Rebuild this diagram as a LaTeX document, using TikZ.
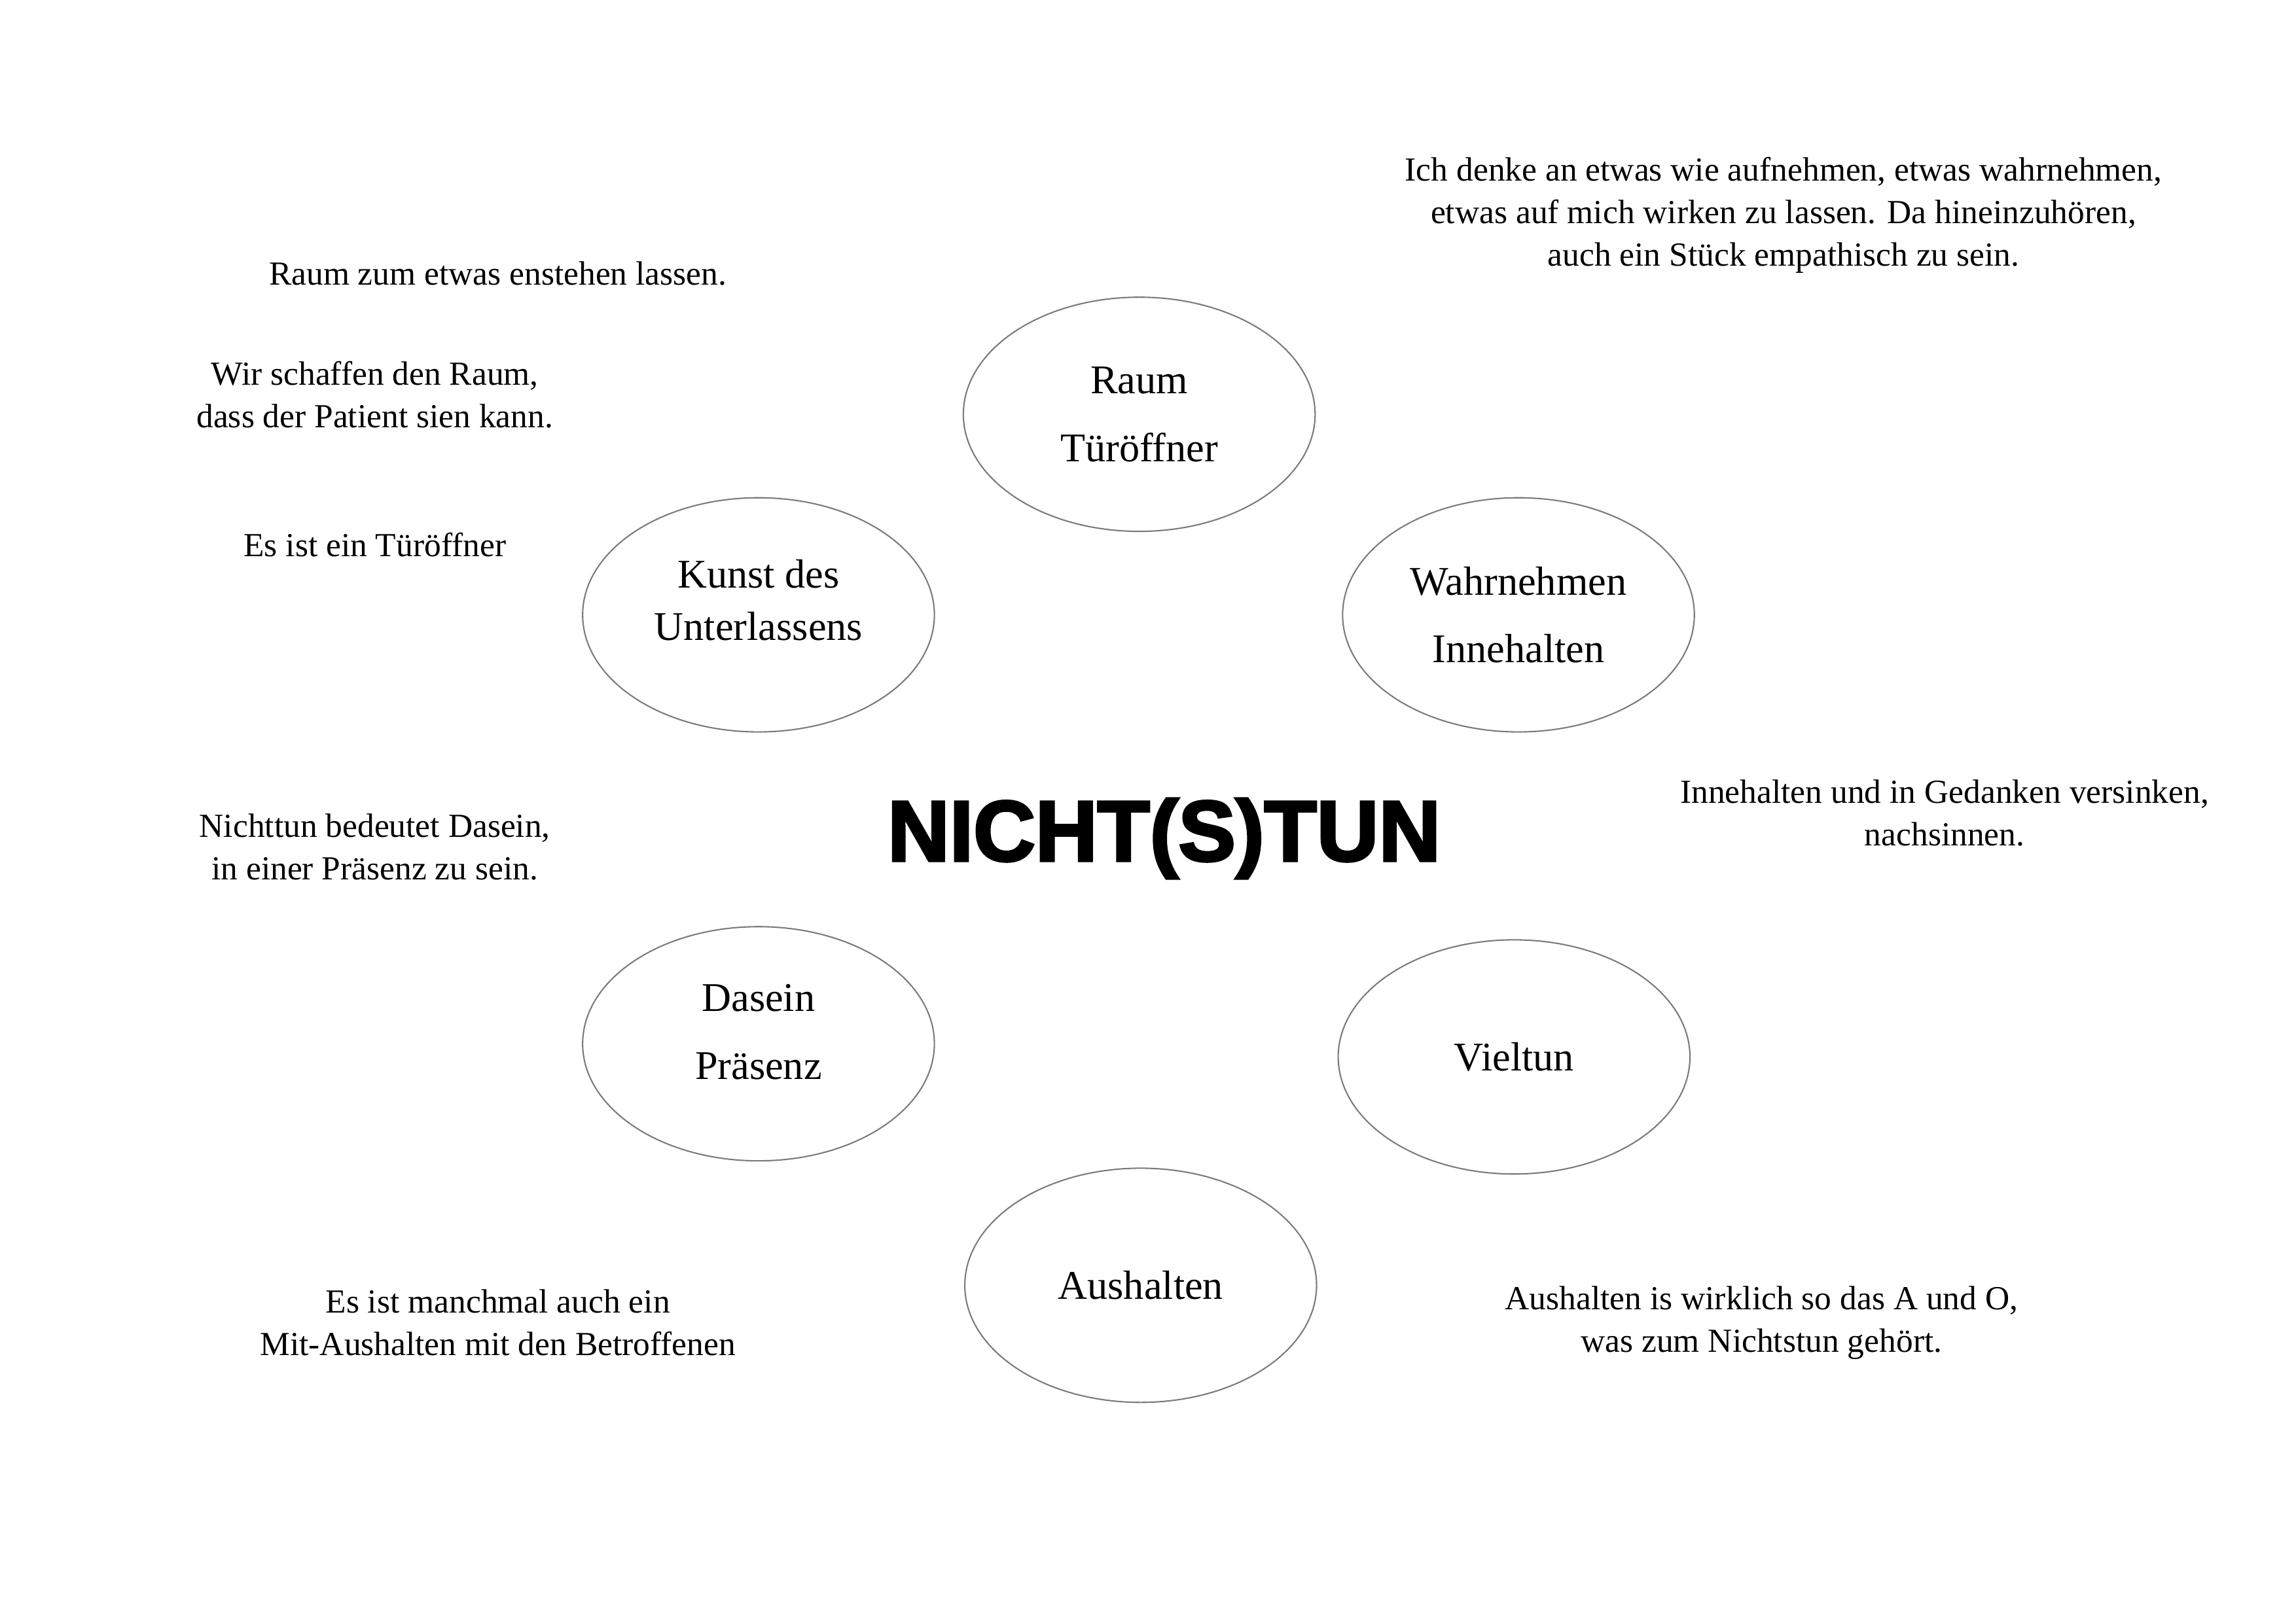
\documentclass[tikz,border=0pt]{standalone}
\usepackage{fontspec}
\setmainfont{Liberation Serif}
\newfontfamily\titlefont[FakeBold=3]{Liberation Sans Bold}
\usepackage{xcolor}
\usepackage{tikz}
\usetikzlibrary{shapes.geometric,positioning}
\definecolor{rimgray}{HTML}{7A7A7A}

\begin{document}
\begin{tikzpicture}[x=0.1894mm,y=-0.1894mm,
bubble/.style={ellipse,draw=rimgray,line width=0.5pt,minimum width=45.5mm,minimum height=30.3mm,inner sep=0pt,align=center,font=\fontsize{15}{25}\selectfont},
note/.style={inner sep=0pt,align=center,font=\fontsize{12.4}{15.6}\selectfont},
headline/.style={inner sep=0pt,anchor=base,font=\titlefont\fontsize{31.6}{36}\selectfont}]
\useasboundingbox (0,0) rectangle (1568,1109);
\node[headline] (head) at (795,588) {NICHT(S)TUN};
\node[bubble] (raum) at (778,283) {Raum\\Türöffner};
\node[bubble,font=\fontsize{15}{19.3}\selectfont,text depth=10.8pt] (kunst) at (518,420) {Kunst des\\Unterlassens};
\node[bubble] (wahr) at (1037,420) {Wahrnehmen\\Innehalten};
\node[bubble,text depth=8.7pt] (dasein) at (518,713) {Dasein\\Präsenz};
\node[bubble] (viel) at (1034,722) {Vieltun};
\node[bubble] (aus) at (779,878) {Aushalten};
\node[note] (n1) at (1218,147) {Ich denke an etwas wie aufnehmen, etwas wahrnehmen,\\etwas auf mich wirken zu lassen. Da hineinzuhören,\\auch ein Stück empathisch zu sein.};
\node[note] (n2) at (340,187) {Raum zum etwas enstehen lassen.};
\node[note] (n3) at (256,269.5) {Wir schaffen den Raum,\\dass der Patient sien kann.};
\node[note] (n4) at (256,372) {Es ist ein Türöffner};
\node[note] (n5) at (256,578.5) {Nichttun bedeutet Dasein,\\in einer Präsenz zu sein.};
\node[note] (n6) at (1328,555.5) {Innehalten und in Gedanken versinken,\\nachsinnen.};
\node[note] (n7) at (340,903.5) {Es ist manchmal auch ein\\Mit-Aushalten mit den Betroffenen};
\node[note] (n8) at (1203,903.5) {Aushalten is wirklich so das A und O,\\was zum Nichtstun gehört.};
\end{tikzpicture}
\end{document}
